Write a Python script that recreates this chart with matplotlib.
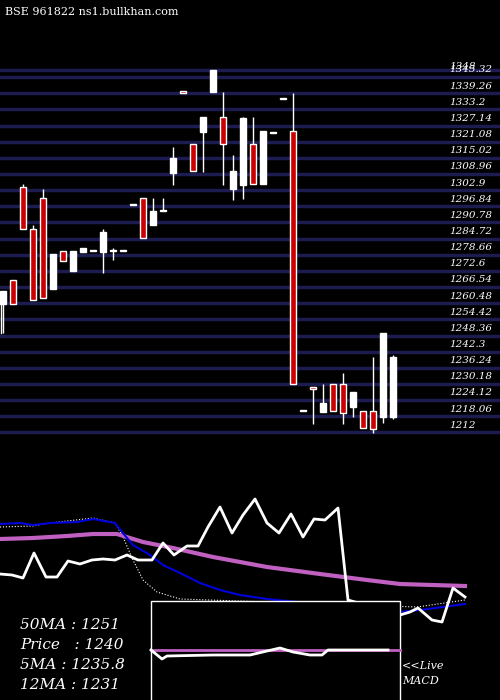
import matplotlib
matplotlib.use("Agg")
import matplotlib.pyplot as plt
import numpy as np

# price grid labels
grid_vals = [1348.0, 1345.32, 1339.26, 1333.2, 1327.14, 1321.08, 1315.02, 1308.96, 1302.9, 1296.84,
             1290.78, 1284.72, 1278.66, 1272.6, 1266.54, 1260.48, 1254.42, 1248.36, 1242.3,
             1236.24, 1230.18, 1224.12, 1218.06, 1212]
label_vals = grid_vals[1:24]

opens  = [1260.2,1269.2,1304.1,1288.3,1300.0,1265.8,1280.1,1272.6,1279.7,1280.1,1279.7,1280.1,1280.1,1297.4,
          1300.0,1289.8,1295.1,1309.4,1340.0,1320.2,1324.7,1339.75,1330.4,1303.4,1304.9,1320.2,1305.2,1324.9,
          1337.1,1325.1,1220.05,1229.0,1219.7,1230.2,1230.2,1221.6,1220.05,1220.05,1217.8,1217.8]
closes = [1265.1,1260.2,1288.3,1261.7,1262.4,1279.0,1276.3,1280.1,1281.2,1280.1,1287.2,1280.1,1280.1,1297.4,
          1285.0,1295.1,1295.1,1315.0,1339.2,1310.1,1330.4,1348.0,1320.2,1310.1,1330.0,1305.2,1325.1,1324.4,
          1337.1,1230.2,1220.05,1228.4,1223.05,1220.05,1219.3,1227.2,1213.7,1213.3,1249.3,1240.3]
highs  = [1265.1,1269.2,1305.2,1289.8,1303.4,1279.0,1280.1,1280.1,1281.2,1280.1,1288.3,1281.2,1280.1,1297.4,
          1300.0,1300.0,1300.0,1319.1,1340.0,1320.2,1330.4,1348.0,1339.75,1316.1,1330.4,1330.4,1325.1,1324.9,
          1337.1,1339.4,1220.05,1229.0,1230.2,1230.2,1234.3,1227.2,1220.05,1240.3,1249.3,1241.1]
lows   = [1249.3,1260.2,1288.3,1261.7,1262.4,1265.8,1276.3,1272.6,1279.7,1280.1,1271.8,1276.7,1280.1,1297.4,
          1285.0,1289.8,1295.1,1304.9,1339.2,1310.1,1309.7,1339.75,1304.9,1299.2,1299.6,1305.2,1305.2,1324.4,
          1337.1,1230.2,1220.05,1215.2,1219.7,1220.05,1215.2,1217.8,1213.7,1211.8,1215.5,1217.05]

# lower panel lines (x px, y px)
price_x = [0,12,23,34,46,57,68,80,92,103,115,127,138,152,163,174,187,198,208,220,232,243,255,267,279,291,303,314,325,338,348,
           400,410,418,432,442,453,465]
price_y = [574,575,578,553,577,577,561,564,560,559,560,555,560,560,543,555,546,546,527,507,533,515,499,523,533,514,537,519,520,508,600,
           615,612,608,620,622,588,597]
blue_x = [0,20,33,50,77,93,115,122,133,150,163,180,200,220,240,267,400,420,443,465]
blue_y = [524,523,525,523,522,519,523,532,545,555,565,573,583,590,595,599,612,610,607,604]
mag_x = [0,33,67,93,117,143,173,213,267,320,367,400,465]
mag_y = [539,538,536,534,534,542,548,557,567,574,580,584,586]
dot_x = [0,33,50,93,115,123,133,143,157,180,417,465]
dot_y = [527,526,523,518,523,537,560,580,592,599,607,600]
macd_x = [151,162,167,213,250,267,280,293,310,322,328,388]
macd_y = [650,659,656,655,655,651,648,652,655,655,650,650]

bg = "black"
fig = plt.figure(figsize=(5, 7), dpi=100, facecolor=bg)
serif = ["DejaVu Serif"]

ax = fig.add_axes([0, 1 - 460/700, 1, 460/700], facecolor=bg)
ax.set_xlim(-0.3, 49.7)
ax.set_ylim(1201.66, 1374.27)
ax.axis("off")
for v in grid_vals:
    ax.axhline(v, color="#1c1c50", lw=2.5, zorder=0)
for v in label_vals:
    ax.text(44.6, v + 1.0, f"{v:g}", color="white", fontsize=7.5, family=serif, style="italic", va="bottom", ha="left")
ax.text(44.6, 1347.8, "1348", color="white", fontsize=7.5, family=serif, style="italic", va="bottom", ha="left")
ax.plot([-0.25, -0.25], [1249.3, 1262], color="white", lw=1)

w = 0.68
for i, (o, c, h, l) in enumerate(zip(opens, closes, highs, lows)):
    ax.vlines(i, l, h, color="white", lw=1, zorder=2)
    lo, hi = min(o, c), max(o, c)
    height = max(hi - lo, 0.5)
    face = "#cc0000" if c < o else "white"
    ax.add_patch(plt.Rectangle((i - w/2, lo), w, height, facecolor=face, edgecolor="white", lw=1, zorder=3))

fig.text(0.01, 0.99, "BSE 961822 ns1.bullkhan.com", color="white", fontsize=8, family=serif, va="top")

bx = fig.add_axes([0, 0, 1, 240/700], facecolor=bg)
bx.set_xlim(0, 500)
bx.set_ylim(700, 460)
bx.axis("off")
bx.plot(dot_x, dot_y, color="white", lw=0.8, ls=":", zorder=2)
bx.plot(mag_x, mag_y, color="#c060c0", lw=3, zorder=2)
bx.plot(blue_x, blue_y, color="#0000dd", lw=1.5, zorder=3)
bx.plot(price_x, price_y, color="white", lw=2, zorder=4)
bx.add_patch(plt.Rectangle((151, 600.7), 249, 110, facecolor="black", edgecolor="white", lw=1, zorder=5))
bx.plot([151, 400], [650, 650], color="#c060c0", lw=2, zorder=6)
bx.plot(macd_x, macd_y, color="white", lw=2, zorder=7)
for txt, y in [("50MA : 1251", 625), ("Price   : 1240", 645), ("5MA : 1235.8", 665), ("12MA : 1231", 685)]:
    bx.text(20, y, txt, color="white", fontsize=11, family=serif, style="italic", va="center")
bx.text(402, 666, "<<Live", color="white", fontsize=8, family=serif, style="italic", va="center")
bx.text(402, 681, "MACD", color="white", fontsize=8, family=serif, style="italic", va="center")

fig.savefig("out.png", dpi=100, facecolor=bg)
